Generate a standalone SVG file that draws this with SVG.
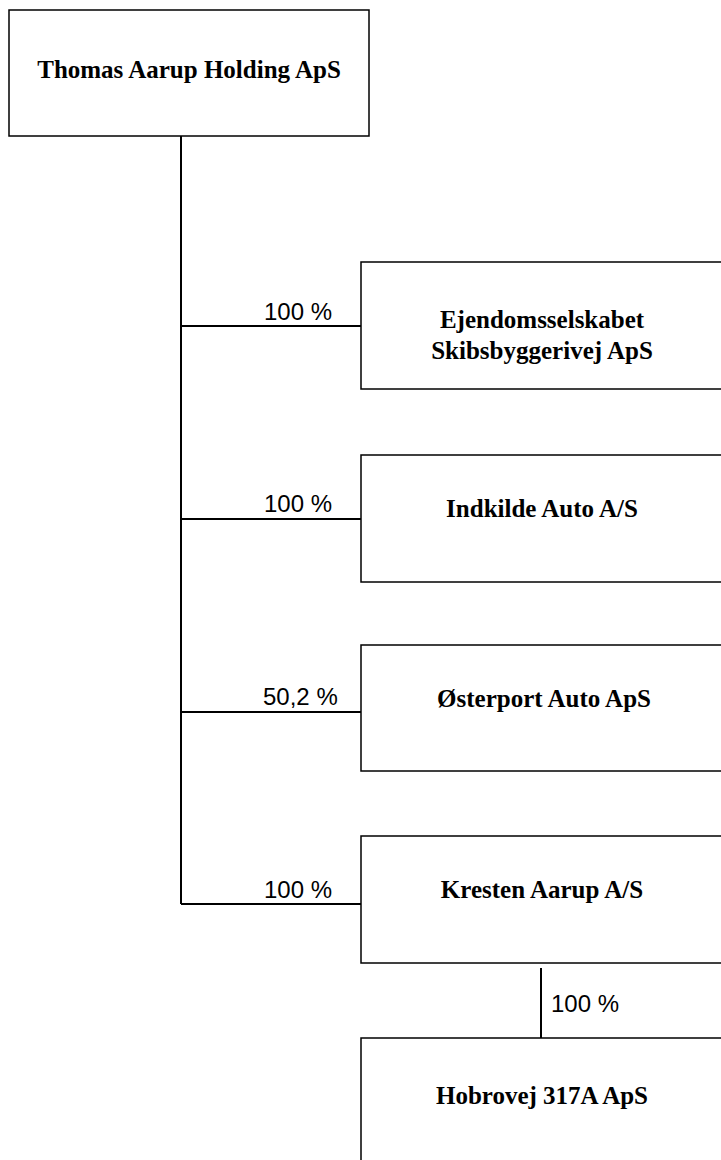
<svg xmlns="http://www.w3.org/2000/svg" width="721" height="1160" viewBox="0 0 721 1160">
<style>
.box{fill:#fff;stroke:#000;stroke-width:1.5}
.name{font-family:"Liberation Serif","Times New Roman",serif;font-weight:bold;font-size:25px;fill:#000;text-anchor:middle}
.pct{font-family:"Liberation Sans",Arial,sans-serif;font-size:24px;fill:#000}
.conn{stroke:#000;stroke-width:2;fill:none}
</style>
<rect width="721" height="1160" fill="#fff"/>
<g id="connectors">
<path class="conn" d="M181,136 V904 M181,326 H361 M181,519 H361 M181,712 H361 M181,904 H361 M541,968 V1038"/>
<text class="pct" x="264" y="320">100 %</text>
<text class="pct" x="264" y="512">100 %</text>
<text class="pct" x="263" y="705">50,2 %</text>
<text class="pct" x="264" y="898">100 %</text>
<text class="pct" x="551" y="1012">100 %</text>
</g>
<g id="n0">
<rect class="box" x="9" y="10" width="360" height="126"/>
<text class="name" x="189" y="78">Thomas Aarup Holding ApS</text>
</g>
<g id="n1">
<rect class="box" x="361" y="262" width="370" height="127"/>
<text class="name" x="542" y="328">Ejendomsselskabet</text>
<text class="name" x="542" y="359">Skibsbyggerivej ApS</text>
</g>
<g id="n2">
<rect class="box" x="361" y="455" width="370" height="127"/>
<text class="name" x="542" y="517">Indkilde Auto A/S</text>
</g>
<g id="n3">
<rect class="box" x="361" y="645" width="370" height="126"/>
<text class="name" x="544" y="707">Østerport Auto ApS</text>
</g>
<g id="n4">
<rect class="box" x="361" y="836" width="370" height="127"/>
<text class="name" x="542" y="898">Kresten Aarup A/S</text>
</g>
<g id="n5">
<rect class="box" x="361" y="1038" width="370" height="140"/>
<text class="name" x="542" y="1104">Hobrovej 317A ApS</text>
</g>
</svg>
